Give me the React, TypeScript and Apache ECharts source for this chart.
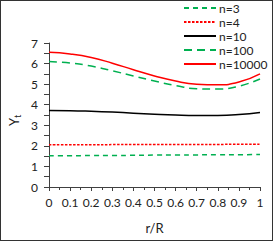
import React, { useEffect, useRef } from "react";
import * as echarts from "echarts";

const rR = [0, 0.1, 0.2, 0.3, 0.4, 0.5, 0.6, 0.7, 0.8, 0.9, 1];
const n3 = [1.52, 1.52, 1.53, 1.53, 1.54, 1.55, 1.55, 1.56, 1.57, 1.57, 1.58];
const n4 = [2.05, 2.05, 2.05, 2.06, 2.06, 2.06, 2.07, 2.07, 2.07, 2.08, 2.08];
const n10 = [3.72, 3.71, 3.68, 3.64, 3.59, 3.54, 3.5, 3.48, 3.48, 3.52, 3.62];
const n100 = [6.1, 6.03, 5.88, 5.65, 5.4, 5.15, 4.93, 4.78, 4.76, 4.9, 5.25];
const n10000 = [6.55, 6.47, 6.3, 6.02, 5.7, 5.4, 5.15, 5.0, 4.97, 5.1, 5.5];
const seriesNames = ["n=3", "n=4", "n=10", "n=100", "n=10000"];
const xTicks = ["0", "0.1", "0.2", "0.3", "0.4", "0.5", "0.6", "0.7", "0.8", "0.9", "1"];

export default function App() {
  const ref = useRef<HTMLDivElement>(null);
  useEffect(() => {
    document.body.style.margin = "0";
    const chart = echarts.init(ref.current!, null, { renderer: "svg" });
    const font = "Lato, 'Noto Sans', sans-serif";
    const pts = (ys: number[]) => rR.map((x, i) => [x, ys[i]]);
    const mk = (name: string, ys: number[], color: string, type: any, w = 1.5) => ({
      name,
      type: "line",
      data: pts(ys),
      smooth: true,
      symbol: "none",
      showSymbol: false,
      lineStyle: { color, width: w, type },
      itemStyle: { color },
    });
    chart.setOption({
      animation: false,
      textStyle: { fontFamily: font },
      grid: { left: 48, right: 12, top: 42, bottom: 53 },
      legend: {
        orient: "vertical",
        left: 182,
        top: 0,
        padding: 0,
        itemWidth: 32,
        itemHeight: 8,
        itemGap: 0,
        itemStyle: { opacity: 0 },
        textStyle: { fontSize: 12, lineHeight: 14, height: 14, color: "#222", fontFamily: font, padding: [0, 0, 0, -2] },
        data: seriesNames,
      },
      xAxis: {
        type: "value",
        min: 0,
        max: 1,
        interval: 0.1,
        name: "r/R",
        nameLocation: "middle",
        nameGap: 34,
        nameTextStyle: { fontSize: 13, color: "#222", fontFamily: font },
        axisLine: { lineStyle: { color: "#404040", width: 1 } },
        axisTick: { show: true, length: 4, lineStyle: { color: "#404040" } },
        minorTick: { show: true, splitNumber: 2, length: 3, lineStyle: { color: "#404040" } },
        splitLine: { show: false },
        axisLabel: {
          fontSize: 12,
          color: "#222",
          margin: 9,
          formatter: (v: number) => xTicks[Math.round(v * 10)] ?? "",
        },
      },
      yAxis: {
        type: "value",
        min: 0,
        max: 7,
        interval: 1,
        axisLine: { show: true, lineStyle: { color: "#404040", width: 1 } },
        axisTick: { show: true, length: 5, lineStyle: { color: "#404040" } },
        minorTick: { show: true, splitNumber: 2, length: 5, lineStyle: { color: "#404040" } },
        splitLine: { show: false },
        axisLabel: { fontSize: 12, color: "#222", margin: 11 },
      },
      graphic: [
        {
          type: "text",
          x: 4,
          y: 125,
          rotation: Math.PI / 2,
          style: {
            text: "{a|Y}{b|t}",
            fill: "#222",
            rich: {
              a: { fontSize: 13, fontFamily: font, fill: "#222" },
              b: { fontSize: 9, fontFamily: font, fill: "#222", padding: [8, 0, 0, 0] },
            },
          },
        },
      ],
      series: [
        mk("n=3", n3, "#00B050", [5, 4]),
        mk("n=4", n4, "#FF0000", [2.5, 1.5]),
        mk("n=10", n10, "#000000", "solid"),
        mk("n=100", n100, "#00B050", [8, 5]),
        mk("n=10000", n10000, "#FF0000", "solid"),
      ],
    });
    return () => chart.dispose();
  }, []);
  return (
    <div
      style={{
        position: "absolute",
        left: 0,
        top: 0,
        width: 273,
        height: 241,
        border: "1px solid #333",
        boxSizing: "border-box",
        background: "#fff",
      }}
    >
      <div ref={ref} style={{ width: 271, height: 239 }} />
    </div>
  );
}
